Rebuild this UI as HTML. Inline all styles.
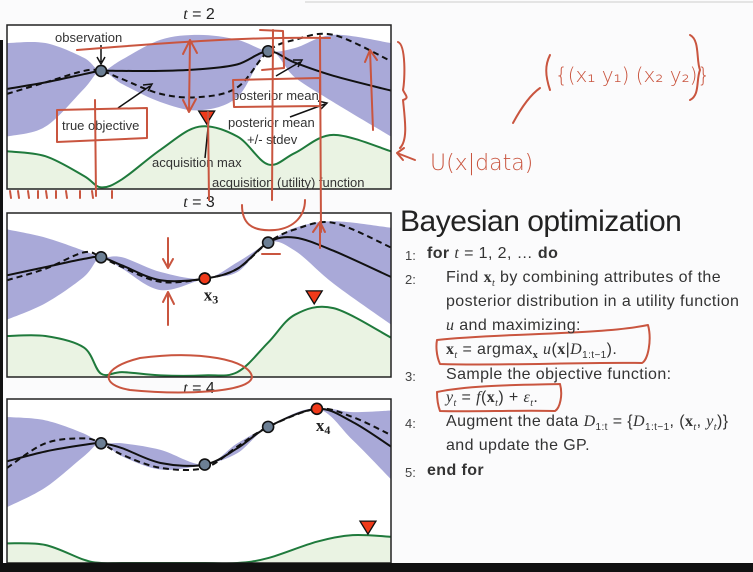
<!DOCTYPE html>
<html><head><meta charset="utf-8"><style>
body{margin:0;width:753px;height:572px;overflow:hidden;background:#fbfbfc;font-family:"Liberation Sans",sans-serif;position:relative}
svg{position:absolute;left:0;top:0}
.algo{position:absolute;left:400px;top:205px;color:#222}
.algo h1{margin:0;font-weight:normal;font-size:30px;letter-spacing:-0.5px;line-height:34px}
.ln{position:absolute;font-size:16px;white-space:nowrap;color:#333;letter-spacing:0.4px}
.num{position:absolute;left:0;font-size:13px;color:#444}
.m{font-family:"Liberation Serif",serif;font-style:italic}
.mb{font-family:"Liberation Serif",serif;font-weight:bold}
</style></head><body>
<svg id="chart" width="753" height="572"></svg>
<div class="algo">
<h1>Bayesian optimization</h1>
</div>
<div style="position:absolute;left:0;top:0">
<div class="num" style="left:405px;top:248px">1:</div><div class="ln" style="left:427px;top:245px"><b>for</b> <span class="m">t</span> = 1, 2, … <b>do</b></div>
<div class="num" style="left:405px;top:272px">2:</div><div class="ln" style="left:446px;top:269px">Find <span class="mb">x</span><sub class="m" style="font-size:10px">t</sub> by combining attributes of the</div>
<div class="ln" style="left:446px;top:293px">posterior distribution in a utility function</div>
<div class="ln" style="left:446px;top:317px"><span class="m">u</span> and maximizing:</div>
<div class="ln" style="left:446px;top:341px"><span class="mb">x</span><sub class="m" style="font-size:10px">t</sub> = argmax<sub class="mb" style="font-size:10px">x</sub> <span class="m">u</span>(<span class="mb">x</span>|<span class="m">D</span><sub style="font-size:10px">1:t−1</sub>).</div>
<div class="num" style="left:405px;top:369px">3:</div><div class="ln" style="left:446px;top:366px">Sample the objective function:</div>
<div class="ln" style="left:446px;top:389px"><span class="m">y<sub style="font-size:10px">t</sub></span> = <span class="m">f</span>(<span class="mb">x</span><sub class="m" style="font-size:10px">t</sub>) + <span class="m">ε<sub style="font-size:10px">t</sub></span>.</div>
<div class="num" style="left:405px;top:416px">4:</div><div class="ln" style="left:446px;top:413px">Augment the data <span class="m">D</span><sub style="font-size:10px">1:t</sub> = {<span class="m">D</span><sub style="font-size:10px">1:t−1</sub>, (<span class="mb">x</span><sub class="m" style="font-size:10px">t</sub>, <span class="m">y<sub style="font-size:10px">t</sub></span>)}</div>
<div class="ln" style="left:446px;top:437px">and update the GP.</div>
<div class="num" style="left:405px;top:465px">5:</div><div class="ln" style="left:427px;top:462px"><b>end for</b></div>
</div>
<script>
// ---- data (x as fraction of panel width, values 0..100 of panel height) ----
const p1X=[0,.1,.2,.245,.3,.4,.5,.6,.68,.75,.85,1];
const p1Mean=[61,65,70,72,72,72,73,76,84,77,69,60];
const p1True=[58,65,72,72,67,58,56,62,84,91,94,78];
const p1Upper=[89,89,80,72,79,91,94,91,84,86,94,89];
const p1Lower=[32,38,61,72,64,53,48,56,84,68,53,32];
const p1Acq=[23,20,8,1,6,24,38,32,15,22,33,23];
const p1ObsX=[.245,.68];const p1ObsY=[72,84];
const p1Max=[.52,39];

const p2X=[0,.1,.2,.245,.3,.4,.515,.6,.68,.75,.85,1];
const p2Mean=[62,67,72,73,68,59,60,66,82,85,77,61];
const p2True=[59,66,76,73,67,58,60,66,82,90,94,79];
const p2Upper=[90,85,77,73,73,64,60,70,82,91,95,91];
const p2Lower=[35,45,61,73,66,53,60,64,82,77,57,32];
const p2Acq=[25,25,18,2,3,1,1,3,21,38,42,24];
const p2ObsX=[.245,.515,.68];const p2ObsY=[73,60,82];
const p2NewX=.515,p2NewY=60;
const p2Max=[.8,44];

const p3X=[0,.1,.2,.245,.3,.4,.515,.6,.68,.807,.9,1];
const p3Mean=[62,68,72,73,70,61,60,70,83,94,86,71];
const p3True=[58,73,76,73,66,58,58,71,83,94,89,78];
const p3Upper=[89,87,79,73,73,69,60,73,83,94,92,93];
const p3Lower=[34,46,65,73,65,57,60,67,83,94,75,51];
const p3Acq=[12,11,2,0,0,0,0,0,3,13,17,16];
const p3ObsX=[.245,.515,.68];const p3ObsY=[73,60,83];
const p3NewX=.807,p3NewY=94;
const p3Max=[.94,17];

const NS="http://www.w3.org/2000/svg";
const svg=document.getElementById('chart');
function mk(t,a,parent){const e=document.createElementNS(NS,t);for(const k in a)e.setAttribute(k,a[k]);(parent||svg).appendChild(e);return e;}
function path(pts){let d="M"+pts[0][0]+","+pts[0][1];for(let i=0;i<pts.length-1;i++){const p0=pts[Math.max(0,i-1)],p1=pts[i],p2=pts[i+1],p3=pts[Math.min(pts.length-1,i+2)];
const c1=[p1[0]+(p2[0]-p0[0])/6,p1[1]+(p2[1]-p0[1])/6],c2=[p2[0]-(p3[0]-p1[0])/6,p2[1]-(p3[1]-p1[1])/6];d+=" C"+c1+" "+c2+" "+p2;}return d;}
function panel(top,name,title,X,mean,tru,up,lo,acq,obsX,obsY,newX,newY,maxp,newLabel){
 const x0=7,w=384,h=164,bot=top+h;
 const xs=f=>x0+f*w, ys=v=>bot-v*h/100;
 const g=mk('g',{});
 mk('rect',{x:x0,y:top,width:w,height:h,fill:'#fff'},g);
 const acqPts=X.map((f,i)=>[xs(f),ys(acq[i])]);
 const af=mk('path',{d:path(acqPts)+` L${xs(1)},${bot} L${xs(0)},${bot} Z`,fill:'#eaf3e3'},g);
 const upP=X.map((f,i)=>[xs(f),ys(up[i])]),loP=X.map((f,i)=>[xs(f),ys(lo[i])]).reverse();
 const band=mk('path',{d:path(upP)+" L"+loP[0]+path(loP).slice(path(loP).indexOf('C')-1)+" Z",fill:'#a9a9d8'},g);
 
 const t=mk('path',{d:path(X.map((f,i)=>[xs(f),ys(tru[i])])),fill:'none',stroke:'#111','stroke-width':2,'stroke-dasharray':'6 4'},g);
 
 const m=mk('path',{d:path(X.map((f,i)=>[xs(f),ys(mean[i])])),fill:'none',stroke:'#111','stroke-width':2},g);
 
 const a=mk('path',{d:path(acqPts),fill:'none',stroke:'#1f7a3c','stroke-width':2},g);
 
 obsX.forEach((f,i)=>{const c=mk('circle',{cx:xs(f),cy:ys(obsY[i]),r:5.5,fill:'#6c7f94',stroke:'#111','stroke-width':1.6},g);
  });
 if(newX!=null){const c=mk('circle',{cx:xs(newX),cy:ys(newY),r:5.5,fill:'#f03a1a',stroke:'#111','stroke-width':1.6},g);
  
  const tl=mk('text',{x:xs(newX)-1,y:ys(newY)+22,'font-family':'Liberation Serif,serif','font-weight':'bold','font-size':17,fill:'#222'},g);tl.innerHTML=newLabel;
  }
 const mx=xs(maxp[0]),my=ys(maxp[1]);
 const tri=mk('path',{d:`M${mx-8},${my-14} L${mx+8},${my-14} L${mx},${my-1} Z`,fill:'#f03a1a',stroke:'#111','stroke-width':1.3},g);
 
 mk('rect',{x:x0,y:top,width:w,height:h,fill:'none',stroke:'#222','stroke-width':1.5},g);
 const tt=mk('text',{x:199,y:top-6,'text-anchor':'middle','font-size':16,fill:'#222'},g);tt.innerHTML='<tspan font-style="italic" font-family="Liberation Serif,serif">t</tspan> = '+title;
 
}
panel(25,'panel-t2','2',p1X,p1Mean,p1True,p1Upper,p1Lower,p1Acq,p1ObsX,p1ObsY,null,null,p1Max,'');
panel(213,'panel-t3','3',p2X,p2Mean,p2True,p2Upper,p2Lower,p2Acq,p2ObsX,p2ObsY,p2NewX,p2NewY,p2Max,'x<tspan font-size="12" dy="3">3</tspan>');
panel(399,'panel-t4','4',p3X,p3Mean,p3True,p3Upper,p3Lower,p3Acq,p3ObsX,p3ObsY,p3NewX,p3NewY,p3Max,'x<tspan font-size="12" dy="3">4</tspan>');

// labels panel 1
const labs=[["observation",55,42],["true objective",62,130],["posterior mean",232,100],["posterior mean",228,127],["+/- stdev",247,144],["acquisition max",152,167],["acquisition (utility) function",212,187]];
labs.forEach(l=>{const e=mk('text',{x:l[1],y:l[2],'font-size':13,fill:'#333'});e.textContent=l[0];
 });
const blk=[["M101,45 L101,62","M97,57 L101,64 L105,57"],["M118,108 L150,86","M143,85 L152,84 L148,91"],["M276,76 L300,62","M293,60 L302,60 L298,67"],["M290,117 L325,104","M318,101 L327,103 L321,109"],["M205,158 L209,118",""]];
blk.forEach(b=>{const e=mk('path',{d:b[0]+" "+b[1],fill:'none',stroke:'#111','stroke-width':1.5});});

// red handwriting
const red='#c9553f';
const strokes=["M77,50 C150,44 250,36 330,38","M95,100 L96,196","M208,112 L209,200","M273,30 L272,200","M320,36 L321,232",
"M57,110 L147,108 L147,138 L57,142 Z","M233,80 L320,78 L320,106 L234,107 Z","M260,30 L283,31 L284,68 L262,70",
"M190,40 L189,112 M183,54 L190,40 L197,53 M183,100 L189,112 L196,99","M370,50 L373,130 M365,62 L370,50 L377,60",
"M10,191 L11,198 M18,191 L19,198 M28,191 L29,198 M38,191 L38,198 M46,191 L47,198 M56,191 L56,198 M66,191 L67,198 M80,191 L80,198 M92,191 L93,198 M112,191 L112,198",
"M398,42 C406,45 405,80 403,90 C405,95 410,98 403,100 C405,120 408,140 400,148","M397,153 L415,160 M397,153 L404,148 M397,153 L403,160",
"M168,238 L168,268 M163,259 L168,268 L173,259","M168,325 L168,292 M163,302 L168,292 L174,304",
"M140,358 C200,350 250,360 252,377 C250,393 180,395 130,390 C100,385 100,368 140,358",
"M242,205 C242,222 250,232 275,230 C295,228 305,215 305,200","M262,254 L280,254","M320,248 L320,222 M313,232 L320,222 L325,232",
"M437,340 C500,333 600,335 648,325 C652,340 648,360 642,363 C580,362 500,366 440,364 C436,355 436,345 437,340",
"M437,392 C470,385 520,385 560,384 C563,395 560,408 555,411 C520,410 470,412 440,411 C437,403 437,396 437,392",
"M513,123 C520,110 530,95 540,88","M550,55 C545,65 545,75 550,90","M690,35 C700,40 696,60 700,70 C696,80 700,95 690,100"];
strokes.forEach(s=>{const e=mk('path',{d:s,fill:'none',stroke:red,'stroke-width':2,'stroke-linecap':'round','stroke-linejoin':'round'});
 });
const rt=[["U(x|data)",430,170,22],["{(x₁ y₁) (x₂ y₂)}",555,82,20]];
rt.forEach(r=>{const e=mk('text',{x:r[1],y:r[2],'font-size':r[3],fill:red,'font-family':'DejaVu Sans,sans-serif','font-weight':'lighter'});e.textContent=r[0];
 });
// frame elements
const fb=mk('rect',{x:0,y:563,width:753,height:9,fill:'#111'});
const fl=mk('rect',{x:0,y:40,width:3,height:532,fill:'#111'});
const tl=mk('line',{x1:305,y1:2,x2:753,y2:2,stroke:'#ccc','stroke-width':1});
</script>
</body></html>
